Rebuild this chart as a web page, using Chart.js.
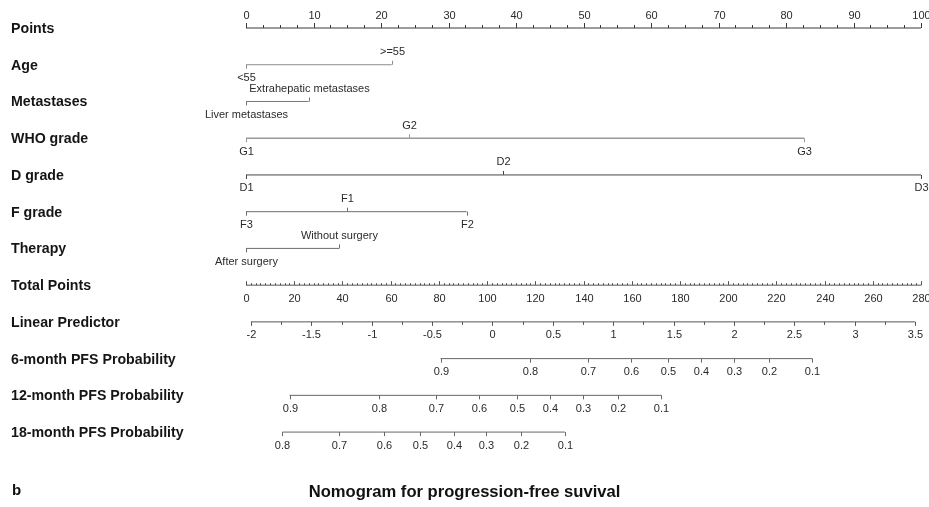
<!DOCTYPE html>
<html>
<head>
<meta charset="utf-8">
<title>Nomogram for progression-free suvival</title>
<script src="https://cdn.jsdelivr.net/npm/chart.js@4.4.1/dist/chart.umd.min.js"></script>
<style>
  html, body { margin: 0; padding: 0; background: #ffffff; }
  #wrap { width: 929px; height: 507px; }
</style>
</head>
<body>
<div id="wrap"><canvas id="nomogram" width="929" height="507"></canvas></div>
<script>
// ---- Nomogram data --------------------------------------------------------
const rowTitles = [
  'Points', 'Age', 'Metastases', 'WHO grade', 'D grade', 'F grade', 'Therapy',
  'Total Points', 'Linear Predictor',
  '6-month PFS Probability', '12-month PFS Probability', '18-month PFS Probability'
];

// Points scale (0-100)
const pointsTicks = [0, 10, 20, 30, 40, 50, 60, 70, 80, 90, 100];

// Predictor levels and the points each level contributes
const ageLevels = ['<55', '>=55'];
const agePoints = [0, 21.6];
const metastasesLevels = ['Liver metastases', 'Extrahepatic metastases'];
const metastasesPoints = [0, 9.3];
const whoGradeLevels = ['G1', 'G2', 'G3'];
const whoGradePoints = [0, 24.1, 82.7];
const dGradeLevels = ['D1', 'D2', 'D3'];
const dGradePoints = [0, 38.1, 100];
const fGradeLevels = ['F3', 'F1', 'F2'];
const fGradePoints = [0, 15.0, 32.7];
const therapyLevels = ['After surgery', 'Without surgery'];
const therapyPoints = [0, 13.8];

// Total points and linear predictor scales
const totalPointsTicks = [0, 20, 40, 60, 80, 100, 120, 140, 160, 180, 200, 220, 240, 260, 280];
const linearPredictorTicks = [-2, -1.5, -1, -0.5, 0, 0.5, 1, 1.5, 2, 2.5, 3, 3.5];

// Survival probabilities, placed at their linear predictor values
const pfs6Labels = ['0.9', '0.8', '0.7', '0.6', '0.5', '0.4', '0.3', '0.2', '0.1'];
const pfs6LP = [-0.43, 0.31, 0.79, 1.15, 1.45, 1.73, 2.00, 2.29, 2.65];
const pfs12Labels = ['0.9', '0.8', '0.7', '0.6', '0.5', '0.4', '0.3', '0.2', '0.1'];
const pfs12LP = [-1.68, -0.94, -0.47, -0.11, 0.20, 0.48, 0.75, 1.04, 1.40];
const pfs18Labels = ['0.8', '0.7', '0.6', '0.5', '0.4', '0.3', '0.2', '0.1'];
const pfs18LP = [-1.74, -1.27, -0.90, -0.60, -0.32, -0.05, 0.24, 0.60];

// ---- Row layout / styling ---------------------------------------------------
const FONT = '"Liberation Sans", Arial, Helvetica, sans-serif';

// side: where the tick labels go ('above', 'below', or 'alt' = alternate by level)
// tickDir: -1 ticks point up, +1 ticks point down (defaults to the label side)
const rows = [
  { axis: 'xPts', values: pointsTicks, labels: pointsTicks.map(String), side: 'above',
    color: '#3a3a3a', minorStep: 2.5, majorLen: 5, minorLen: 3 },
  { axis: 'xPts', values: agePoints, labels: ageLevels, side: 'alt', color: '#8c8c8c' },
  { axis: 'xPts', values: metastasesPoints, labels: metastasesLevels, side: 'alt', color: '#7a7a7a' },
  { axis: 'xPts', values: whoGradePoints, labels: whoGradeLevels, side: 'alt', color: '#9a9a9a', width: 1.4 },
  { axis: 'xPts', values: dGradePoints, labels: dGradeLevels, side: 'alt', color: '#444444' },
  { axis: 'xPts', values: fGradePoints, labels: fGradeLevels, side: 'alt', color: '#6e6e6e' },
  { axis: 'xPts', values: therapyPoints, labels: therapyLevels, side: 'alt', color: '#6e6e6e' },
  { axis: 'xTot', values: totalPointsTicks, labels: totalPointsTicks.map(String), side: 'below', tickDir: -1,
    color: '#555555', minorStep: 2, majorLen: 4, minorLen: 2 },
  { axis: 'xLP', values: linearPredictorTicks, labels: linearPredictorTicks.map(String), side: 'below',
    color: '#555555', minorStep: 0.25, majorLen: 4, minorLen: 3 },
  { axis: 'xLP', values: pfs6LP, labels: pfs6Labels, side: 'below', color: '#666666' },
  { axis: 'xLP', values: pfs12LP, labels: pfs12Labels, side: 'below', color: '#666666' },
  { axis: 'xLP', values: pfs18LP, labels: pfs18Labels, side: 'below', color: '#666666' }
];

// Each row's axis line is a dataset drawn through its own x scale
const datasets = rows.map((row, r) => ({
  label: rowTitles[r],
  xAxisID: row.axis,
  yAxisID: 'y',
  data: row.values.slice().sort((a, b) => a - b).map(v => ({ x: v, y: r })),
  showLine: true,
  borderColor: row.color,
  borderWidth: row.width || 1,
  pointRadius: 0,
  pointHoverRadius: 0,
  clip: false
}));

// Ticks, tick labels, row captions and the panel letter
const nomogramPlugin = {
  id: 'nomogramAxes',
  afterDatasetsDraw(chart) {
    const ctx = chart.ctx;
    const yScale = chart.scales.y;
    ctx.save();
    rows.forEach((row, r) => {
      const y = yScale.getPixelForValue(r);
      const xs = chart.scales[row.axis];

      // caption on the left
      ctx.font = 'bold 14.2px ' + FONT;
      ctx.fillStyle = '#151515';
      ctx.textAlign = 'left';
      ctx.textBaseline = 'middle';
      ctx.fillText(rowTitles[r], 11, y + 1);

      ctx.strokeStyle = row.color;
      ctx.lineWidth = 1;

      // minor ticks
      if (row.minorStep) {
        const lo = Math.min(...row.values), hi = Math.max(...row.values);
        const n = Math.round((hi - lo) / row.minorStep);
        const dir = row.tickDir || (row.side === 'above' ? -1 : 1);
        for (let i = 0; i <= n; i++) {
          const v = lo + i * row.minorStep;
          const x = Math.round(xs.getPixelForValue(v)) + 0.5;
          ctx.beginPath();
          ctx.moveTo(x, y);
          ctx.lineTo(x, y + dir * row.minorLen);
          ctx.stroke();
        }
      }

      // major ticks and labels
      const order = row.values.map((v, i) => i).sort((a, b) => row.values[a] - row.values[b]);
      order.forEach((idx, k) => {
        const v = row.values[idx];
        let side = row.side;
        if (side === 'alt') side = (k % 2 === 0) ? 'below' : 'above';
        const dir = row.tickDir || (side === 'above' ? -1 : 1);
        const x = Math.round(xs.getPixelForValue(v)) + 0.5;
        ctx.beginPath();
        ctx.moveTo(x, y);
        ctx.lineTo(x, y + dir * (row.majorLen || 4));
        ctx.stroke();

        ctx.font = '11px ' + FONT;
        ctx.fillStyle = '#2a2a2a';
        ctx.textAlign = 'center';
        ctx.textBaseline = 'middle';
        ctx.fillText(row.labels[idx], x, side === 'above' ? y - 12.5 : y + 13.5);
      });
    });

    // panel letter
    ctx.font = 'bold 15px ' + FONT;
    ctx.fillStyle = '#111111';
    ctx.textAlign = 'left';
    ctx.textBaseline = 'middle';
    const t = chart.titleBlock;
    ctx.fillText('b', 12, t.top + 50 + 9);
    ctx.restore();
  }
};

const hiddenScale = {
  display: true,
  ticks: { display: false },
  grid: { display: false, drawTicks: false },
  border: { display: false }
};

new Chart(document.getElementById('nomogram'), {
  type: 'scatter',
  data: { datasets },
  options: {
    responsive: false,
    devicePixelRatio: 1,
    animation: false,
    events: [],
    layout: { padding: { top: 28, left: 0, right: 0, bottom: 0 } },
    scales: {
      xPts: { axis: 'x', type: 'linear', position: 'bottom', display: false, min: 0, max: 100 },
      xTot: { axis: 'x', type: 'linear', position: 'bottom', display: false, min: 0, max: 280 },
      xLP:  { axis: 'x', type: 'linear', position: 'bottom', display: false, min: -2.0414, max: 3.5497 },
      y: Object.assign({}, hiddenScale, {
        axis: 'y', type: 'linear', position: 'left', min: 0, max: 11, reverse: true,
        afterFit(scale) { scale.width = 246; }
      }),
      yPad: Object.assign({}, hiddenScale, {
        axis: 'y', type: 'linear', position: 'right',
        afterFit(scale) { scale.width = 8; }
      })
    },
    plugins: {
      legend: { display: false },
      tooltip: { enabled: false },
      title: {
        display: true,
        position: 'bottom',
        text: 'Nomogram for progression-free suvival',
        color: '#111111',
        font: { family: FONT, size: 16.6, weight: 'bold' },
        padding: { top: 50, bottom: 5 }
      }
    }
  },
  plugins: [nomogramPlugin]
});
</script>
</body>
</html>
